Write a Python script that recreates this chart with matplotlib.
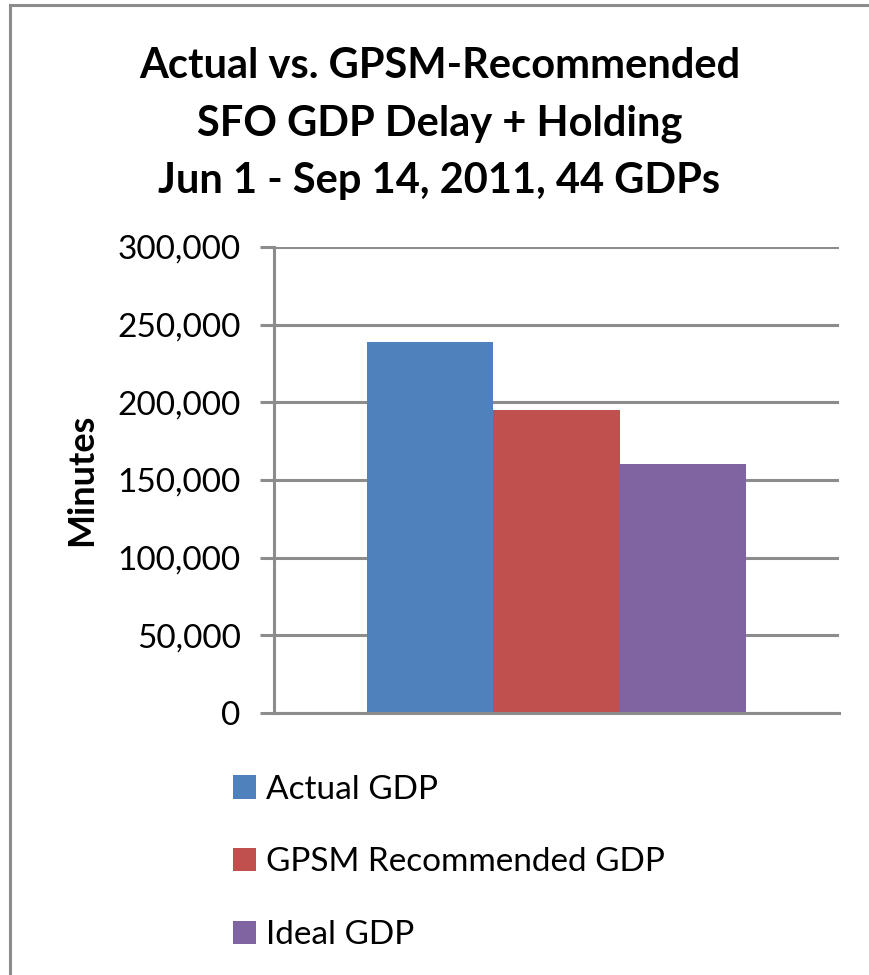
import matplotlib.pyplot as plt
from matplotlib.lines import Line2D
from matplotlib.ticker import FuncFormatter

plt.rcParams['font.family'] = ['Lato', 'DejaVu Sans']

# data
series = ['Actual GDP', 'GPSM Recommended GDP', 'Ideal GDP']
minutes = [239000, 195000, 160000]
colors = ['#4f81bd', '#c0504d', '#8064a2']
yticks = [0, 50000, 100000, 150000, 200000, 250000, 300000]

fig = plt.figure(figsize=(8.7, 9.75), dpi=100)
ax = fig.add_axes([0.315, 0.2687, 0.6494, 0.478])

grid_col = '#8c8c8c'
for i, (name, val, col) in enumerate(zip(series, minutes, colors)):
    ax.bar(i - 1, val, width=1.0, color=col, label=name, zorder=3)

ax.set_xlim(-2.24, 2.24)
ax.set_ylim(0, 300000)
ax.set_yticks(yticks)
ax.yaxis.set_major_formatter(FuncFormatter(lambda v, p: f'{int(v):,}'))
ax.set_xticks([])
ax.yaxis.grid(True, color=grid_col, linewidth=2.2, zorder=0)
for s in ['top', 'right']:
    ax.spines[s].set_visible(False)
ax.spines['left'].set_color(grid_col)
ax.spines['left'].set_linewidth(2.2)
ax.spines['bottom'].set_color(grid_col)
ax.spines['bottom'].set_linewidth(2.2)
ax.spines['bottom'].set_zorder(4)
ax.tick_params(axis='y', length=10, width=2.2, color=grid_col,
               labelsize=24, pad=14)
ax.set_ylabel('Minutes', fontsize=26, fontweight='bold', labelpad=14)

fig.text(0.505, 0.873, 'Actual vs. GPSM-Recommended\nSFO GDP Delay + Holding\nJun 1 - Sep 14, 2011, 44 GDPs',
         ha='center', va='center', fontsize=30, fontweight='bold', linespacing=1.62)

fig.legend(loc='upper left', bbox_to_anchor=(0.252, 0.219), frameon=False,
           fontsize=24, handlelength=0.7, handleheight=0.7, handletextpad=0.3,
           labelspacing=1.28, borderaxespad=0)

# outer chart frame (left and top edges visible)
fig.add_artist(Line2D([0.0115, 0.0115], [0, 0.995], color='#8c8c8c', lw=2.2))
fig.add_artist(Line2D([0.0115, 1.0], [0.995, 0.995], color='#8c8c8c', lw=2.2))

fig.savefig('out.png', dpi=100)
